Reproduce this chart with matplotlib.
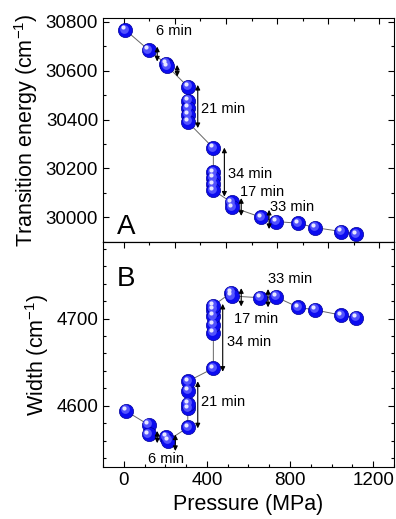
import numpy as np
import matplotlib.pyplot as plt
import matplotlib.transforms as mtrans
from matplotlib.ticker import MultipleLocator

plt.rcParams['font.family'] = ['Liberation Sans', 'DejaVu Sans']
plt.rcParams['mathtext.fontset'] = 'custom'
plt.rcParams['mathtext.rm'] = 'Liberation Sans'
plt.rcParams['mathtext.it'] = 'Liberation Sans:italic'
plt.rcParams['mathtext.bf'] = 'Liberation Sans:bold'

# panel A: transition energy vs pressure
p_top = [8, 120, 204, 210, 308, 308, 308, 308, 308, 431, 431, 431, 431, 431,
         519, 521, 659, 731, 840, 920, 1047, 1119]
e_top = [30767, 30685, 30628, 30618, 30535, 30478, 30447, 30420, 30390,
         30283, 30183, 30160, 30135, 30110, 30060, 30041, 30000, 29982,
         29975, 29957, 29941, 29930]

# panel B: width vs pressure
p_bot = [10, 120, 120, 204, 212, 308, 308, 308, 308, 308, 431, 431, 431, 431,
         431, 431, 517, 519, 656, 731, 840, 920, 1047, 1119]
w_bot = [4594, 4578, 4567, 4564, 4560, 4575, 4597, 4602, 4617, 4628,
         4643, 4684, 4693, 4703, 4710, 4715, 4730, 4726, 4724, 4725,
         4713, 4710, 4704, 4701]

# (x, y_start, y_end) of the double arrows, and labels (x, y, text, ha)
arr_top = [(161, 30699, 30638), (257, 30624, 30576), (356, 30542, 30365),
           (484, 30285, 30084), (565, 30078, 30005), (699, 30030, 29951)]
lab_top = [(240, 30765, '6 min', 'center'), (372, 30443, '21 min', 'left'),
           (500, 30177, '34 min', 'left'), (559, 30101, '17 min', 'left'),
           (704, 30041, '33 min', 'left')]
arr_bot = [(161, 4571, 4557), (248, 4567, 4548), (356, 4628, 4574),
           (476, 4717, 4639), (565, 4735, 4714), (694, 4734, 4713)]
lab_bot = [(204, 4539, '6 min', 'center'), (372, 4604, '21 min', 'left'),
           (495, 4673, '34 min', 'left'), (532, 4700, '17 min', 'left'),
           (694, 4745, '33 min', 'left')]

fig = plt.figure(figsize=(3.96, 5.19), dpi=100)
ax1 = fig.add_axes([0.260, 0.5337, 0.735, 0.431])
ax2 = fig.add_axes([0.260, 0.1008, 0.735, 0.4329])


def spheres(ax, x, y):
    ax.plot(x, y, '-', color='#666666', lw=0.7, zorder=1)
    ax.scatter(x, y, s=105, color='#0c0cf0', edgecolors='#00009a', linewidths=0.5, zorder=2)
    off1 = ax.transData + mtrans.ScaledTranslation(-1.2 / 100, 1.5 / 100, fig.dpi_scale_trans)
    ax.scatter(x, y, s=40, color='#5a5aff', linewidths=0, transform=off1, zorder=3, alpha=0.9)
    off2 = ax.transData + mtrans.ScaledTranslation(-2.2 / 100, 2.6 / 100, fig.dpi_scale_trans)
    ax.scatter(x, y, s=9, color='#e8e8ff', linewidths=0, transform=off2, zorder=4)


def arrows(ax, arr, lab):
    for x, y0, y1 in arr:
        ax.annotate('', xy=(x, y1), xytext=(x, y0),
                    arrowprops=dict(arrowstyle='<|-|>', color='black', lw=0.8,
                                    mutation_scale=7, shrinkA=0, shrinkB=0), zorder=5)
    for x, y, t, ha in lab:
        ax.text(x, y, t, fontsize=10.5, ha=ha, va='center', zorder=6)


spheres(ax1, p_top, e_top)
arrows(ax1, arr_top, lab_top)
spheres(ax2, p_bot, w_bot)
arrows(ax2, arr_bot, lab_bot)

for ax in (ax1, ax2):
    ax.set_xlim(-100, 1300)
    for s in ax.spines.values():
        s.set_linewidth(0.8)
    ax.tick_params(which='both', direction='in', width=0.8, labelsize=13.5, right=True)
    ax.tick_params(which='major', length=4.3)
    ax.tick_params(which='minor', length=2.4)

ax1.set_ylim(29898, 30815)
ax1.yaxis.set_major_locator(MultipleLocator(200))
ax1.yaxis.set_minor_locator(MultipleLocator(100))
ax1.xaxis.set_major_locator(MultipleLocator(246))
ax1.xaxis.set_minor_locator(MultipleLocator(123))
ax1.tick_params(axis='x', which='both', top=True, bottom=False, labelbottom=False)
ax1.set_ylabel('Transition energy (cm$^{-1}$)', fontsize=15.5)
ax1.text(-35, 29905, 'A', fontsize=20, ha='left', va='bottom')

ax2.set_ylim(4530, 4788)
ax2.yaxis.set_major_locator(MultipleLocator(100))
ax2.yaxis.set_minor_locator(MultipleLocator(20))
ax2.xaxis.set_major_locator(MultipleLocator(400))
ax2.xaxis.set_minor_locator(MultipleLocator(100))
ax2.tick_params(axis='x', which='both', top=False)
sec = ax2.secondary_xaxis('top')
sec.xaxis.set_major_locator(MultipleLocator(246))
sec.xaxis.set_minor_locator(MultipleLocator(123))
sec.tick_params(which='both', direction='in', width=0.8, labeltop=False)
sec.tick_params(which='major', length=4.3)
sec.tick_params(which='minor', length=2.4)
sec.spines['top'].set_linewidth(0.8)
ax2.set_ylabel('Width (cm$^{-1}$)', fontsize=15.5)
ax2.set_xlabel('Pressure (MPa)', fontsize=15.5)
ax2.text(-35, 4761, 'B', fontsize=20, ha='left', va='top')

fig.align_ylabels([ax1, ax2])
fig.savefig('out.png', dpi=100)
